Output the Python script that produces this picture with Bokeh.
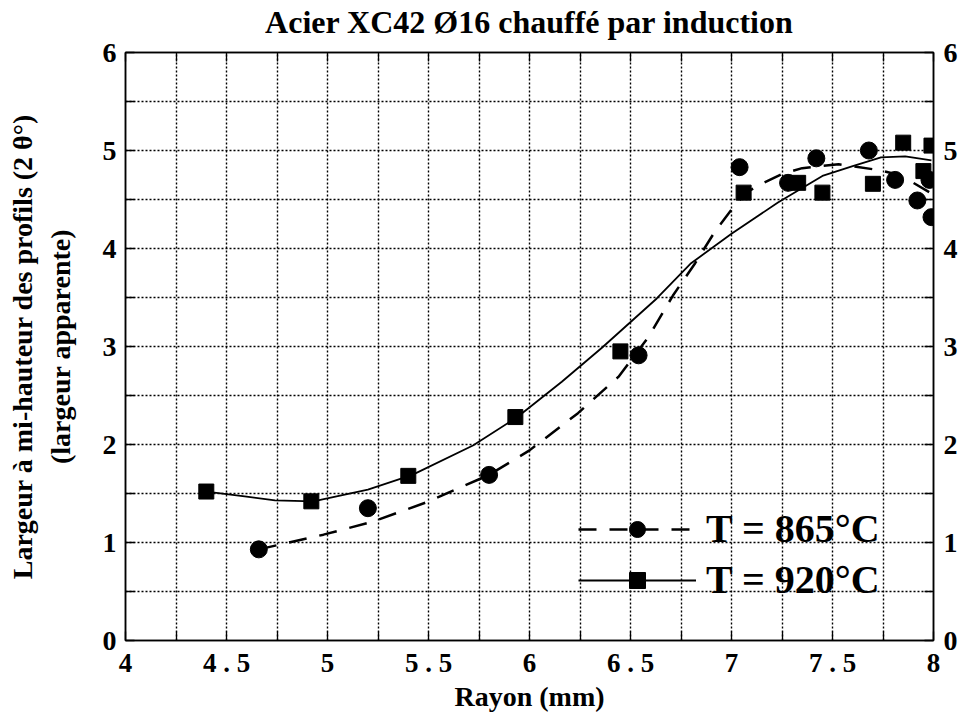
from bokeh.plotting import figure
from bokeh.models import LinearAxis, FixedTicker, Legend, LegendItem, Range1d
from bokeh.embed import file_html
from bokeh.resources import INLINE

# ---- texts ----
title_text = "Acier XC42 Ø16 chauffé par induction"
x_label = "Rayon (mm)"
y_label = "Largeur à mi-hauteur des profils (2 θ°)\n(largeur apparente)"
label_865 = "T = 865°C"
label_920 = "T = 920°C"

# ---- ticks ----
x_ticks = [4, 4.5, 5, 5.5, 6, 6.5, 7, 7.5, 8]
x_tick_labels = ["4", "4 . 5", "5", "5 . 5", "6", "6 . 5", "7", "7 . 5", "8"]
x_minor = [4.25, 4.75, 5.25, 5.75, 6.25, 6.75, 7.25, 7.75]
y_ticks = [0, 1, 2, 3, 4, 5, 6]
y_minor = [0.5, 1.5, 2.5, 3.5, 4.5, 5.5]

# ---- measured points ----
r_865 = [4.66, 5.20, 5.80, 6.54, 7.04, 7.28, 7.42, 7.68, 7.81, 7.92, 7.98, 7.99]
w_865 = [0.93, 1.35, 1.69, 2.91, 4.83, 4.67, 4.92, 5.00, 4.70, 4.49, 4.70, 4.32]
r_920 = [4.40, 4.92, 5.40, 5.93, 6.45, 7.06, 7.33, 7.45, 7.70, 7.85, 7.95, 7.99]
w_920 = [1.52, 1.42, 1.68, 2.28, 2.95, 4.57, 4.67, 4.57, 4.66, 5.08, 4.79, 5.05]

# ---- fitted curves ----
fit_865_r = [4.66, 4.98, 5.22, 5.49, 5.80, 6.00, 6.24, 6.44, 6.59, 6.71, 6.82, 6.92,
             7.02, 7.08, 7.15, 7.25, 7.35, 7.53, 7.73, 7.81, 7.90, 8.00]
fit_865_w = [0.93, 1.08, 1.21, 1.41, 1.69, 1.94, 2.32, 2.69, 3.10, 3.52, 3.85, 4.18,
             4.45, 4.58, 4.66, 4.76, 4.82, 4.86, 4.80, 4.76, 4.67, 4.55]
fit_920_r = [4.40, 4.59, 4.74, 4.93, 5.20, 5.42, 5.72, 5.94, 6.16, 6.36, 6.63, 6.80,
             7.00, 7.23, 7.45, 7.60, 7.74, 7.86, 7.99]
fit_920_w = [1.52, 1.47, 1.43, 1.42, 1.54, 1.69, 1.99, 2.28, 2.64, 2.99, 3.49, 3.85,
             4.15, 4.47, 4.74, 4.84, 4.93, 4.94, 4.90]

FONT = "Liberation Serif"

p = figure(width=960, height=714, output_backend="svg", toolbar_location=None,
           title=None,
           x_range=Range1d(4, 8), y_range=Range1d(0, 6),
           min_border_left=125, min_border_right=25, min_border_top=52,
           min_border_bottom=73, background_fill_color="white",
           border_fill_color="white")

xt = FixedTicker(ticks=x_ticks, minor_ticks=x_minor)
yt = FixedTicker(ticks=y_ticks, minor_ticks=y_minor)
# top axis: tick marks only (no tick labels)
top_t = FixedTicker(ticks=[], minor_ticks=sorted(x_ticks + x_minor))


def style_axis(ax):
    ax.axis_line_color = "black"
    ax.axis_line_width = 1.5
    ax.major_tick_line_color = "black"
    ax.minor_tick_line_color = "black"
    ax.major_tick_line_width = 1.3
    ax.minor_tick_line_width = 1.3
    ax.major_tick_in = 9
    ax.major_tick_out = 0
    ax.minor_tick_in = 9
    ax.minor_tick_out = 0
    ax.major_label_text_font = FONT
    ax.major_label_text_font_style = "bold"
    ax.major_label_text_color = "black"
    ax.major_label_text_font_size = "28px"


xa = p.xaxis[0]
xa.ticker = xt
style_axis(xa)
xa.major_label_text_font_size = "27px"
xa.major_label_overrides = dict(zip(x_ticks, x_tick_labels))
xa.major_label_standoff = 7
xa.axis_label = x_label
xa.axis_label_text_font = FONT
xa.axis_label_text_font_style = "bold"
xa.axis_label_text_font_size = "28px"
xa.axis_label_standoff = 0
xa.axis_label_text_color = "black"

ya = p.yaxis[0]
ya.ticker = yt
style_axis(ya)
ya.major_label_standoff = 9
ya.axis_label = y_label
ya.axis_label_text_font = FONT
ya.axis_label_text_font_style = "bold"
ya.axis_label_text_font_size = "28px"
ya.axis_label_standoff = 24
ya.axis_label_text_color = "black"

ra = LinearAxis(ticker=yt)
style_axis(ra)
ra.major_label_standoff = 10
p.add_layout(ra, "right")

# top axis carries the chart title as its axis label
ta = LinearAxis(ticker=top_t)
style_axis(ta)
ta.major_label_standoff = 0
ta.axis_label = title_text
ta.axis_label_text_font = FONT
ta.axis_label_text_font_style = "bold"
ta.axis_label_text_font_size = "32px"
ta.axis_label_text_color = "black"
ta.axis_label_standoff = 13
p.add_layout(ta, "above")

for g, t in ((p.xgrid[0], xt), (p.ygrid[0], yt)):
    g.ticker = t
    g.grid_line_color = "black"
    g.grid_line_width = 1.4
    g.grid_line_dash = "2 2"
    g.minor_grid_line_color = "black"
    g.minor_grid_line_width = 1.4
    g.minor_grid_line_dash = "2 2"

p.outline_line_color = "black"
p.outline_line_width = 1.5

l865 = p.line(fit_865_r, fit_865_w, line_color="black", line_width=2.5, line_dash="18 13")
l920 = p.line(fit_920_r, fit_920_w, line_color="black", line_width=1.8)
s865 = p.scatter(r_865, w_865, marker="circle", size=17, color="black")
s920 = p.scatter(r_920, w_920, marker="square", size=15, color="black")

legend = Legend(items=[LegendItem(label=label_865, renderers=[l865, s865]),
                       LegendItem(label=label_920, renderers=[l920, s920])],
                location=(453, 37), glyph_width=118, glyph_height=40,
                label_height=40, spacing=4, padding=0, margin=0,
                label_standoff=10, background_fill_alpha=0,
                border_line_alpha=0, label_text_font=FONT,
                label_text_font_style="bold", label_text_font_size="40px",
                label_text_color="black")
p.add_layout(legend)

open("out.html", "w").write(file_html(p, INLINE))
